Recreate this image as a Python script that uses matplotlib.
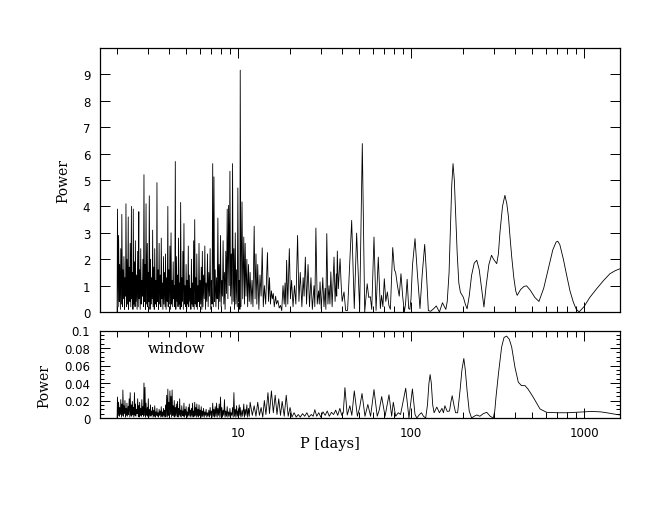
import matplotlib
matplotlib.use("Agg")
import matplotlib.pyplot as plt
from matplotlib.ticker import FixedLocator, LogLocator, MultipleLocator, NullFormatter

# ---------------- data ----------------
# dense short-period part (periods shared by periodogram and window)
p_dense = [
    2.00, 2.01, 2.03, 2.04, 2.06, 2.07, 2.09, 2.10, 2.12, 2.13,
    2.15, 2.16, 2.18, 2.19, 2.21, 2.22, 2.24, 2.25, 2.27, 2.28,
    2.30, 2.32, 2.33, 2.35, 2.37, 2.38, 2.40, 2.42, 2.43, 2.45,
    2.47, 2.48, 2.50, 2.52, 2.54, 2.55, 2.57, 2.59, 2.61, 2.63,
    2.65, 2.67, 2.68, 2.70, 2.72, 2.74, 2.76, 2.78, 2.80, 2.82,
    2.84, 2.86, 2.88, 2.90, 2.92, 2.94, 2.96, 2.99, 3.01, 3.03,
    3.05, 3.07, 3.10, 3.12, 3.14, 3.16, 3.19, 3.21, 3.23, 3.26,
    3.28, 3.30, 3.33, 3.35, 3.38, 3.40, 3.42, 3.45, 3.47, 3.50,
    3.52, 3.55, 3.58, 3.60, 3.63, 3.65, 3.68, 3.71, 3.73, 3.76,
    3.79, 3.81, 3.84, 3.87, 3.90, 3.93, 3.95, 3.98, 4.01, 4.04,
    4.07, 4.10, 4.13, 4.16, 4.19, 4.22, 4.25, 4.28, 4.31, 4.34,
    4.37, 4.40, 4.44, 4.47, 4.50, 4.53, 4.57, 4.60, 4.63, 4.66,
    4.70, 4.73, 4.77, 4.80, 4.83, 4.87, 4.90, 4.94, 4.98, 5.01,
    5.05, 5.08, 5.12, 5.16, 5.19, 5.23, 5.27, 5.31, 5.34, 5.38,
    5.42, 5.46, 5.50, 5.54, 5.58, 5.62, 5.66, 5.70, 5.74, 5.78,
    5.82, 5.87, 5.91, 5.95, 6.00, 6.04, 6.09, 6.13, 6.18, 6.22]
pow_dense = [
    0.0, 3.9, 0.2, 2.9, 0.4, 1.8, 0.1, 2.4, 0.3, 3.7,
    0.2, 1.6, 0.5, 2.1, 0.1, 1.3, 0.6, 4.1, 0.2, 2.0,
    0.3, 3.6, 0.1, 1.7, 0.4, 2.6, 0.2, 4.0, 0.5, 1.5,
    0.1, 3.9, 0.3, 1.9, 0.2, 2.7, 0.4, 1.4, 0.1, 2.3,
    0.2, 3.8, 0.5, 1.6, 0.1, 2.4, 0.3, 1.2, 0.6, 2.0,
    0.2, 5.2, 0.4, 1.8, 0.1, 4.1, 0.3, 2.6, 0.2, 1.5,
    0.4, 4.4, 0.1, 2.0, 0.3, 1.3, 0.5, 3.1, 0.2, 1.7,
    0.1, 2.4, 0.3, 1.2, 0.2, 4.9, 0.4, 1.6, 0.1, 2.6,
    0.3, 1.4, 0.2, 2.8, 0.5, 1.1, 0.1, 2.1, 0.3, 1.5,
    0.2, 2.2, 0.1, 1.3, 0.4, 4.0, 0.2, 1.6, 0.3, 2.5,
    0.1, 3.0, 0.3, 1.2, 0.2, 1.9, 0.5, 1.0, 0.2, 5.7,
    0.1, 2.1, 0.4, 1.4, 0.2, 2.8, 0.3, 1.1, 0.1, 4.15,
    0.2, 1.3, 0.4, 2.3, 0.1, 3.35, 0.3, 1.0, 0.2, 1.8,
    0.1, 1.2, 0.3, 2.5, 0.2, 1.4, 0.4, 0.9, 0.1, 2.0,
    0.3, 1.1, 0.2, 2.7, 0.1, 3.5, 0.3, 1.3, 0.2, 2.2,
    0.1, 1.0, 0.4, 2.6, 0.2, 1.2, 0.3, 1.7, 0.1, 2.3]
win_dense = [
    0.0, 0.024, 0.003, 0.018, 0.002, 0.012, 0.004, 0.021, 0.001, 0.016,
    0.003, 0.032, 0.002, 0.014, 0.005, 0.020, 0.001, 0.011, 0.003, 0.017,
    0.002, 0.013, 0.004, 0.022, 0.001, 0.029, 0.003, 0.015, 0.002, 0.019,
    0.004, 0.012, 0.001, 0.029, 0.003, 0.016, 0.002, 0.010, 0.005, 0.022,
    0.002, 0.014, 0.001, 0.018, 0.003, 0.011, 0.002, 0.021, 0.004, 0.013,
    0.002, 0.040, 0.003, 0.035, 0.001, 0.017, 0.003, 0.012, 0.002, 0.022,
    0.001, 0.010, 0.003, 0.015, 0.002, 0.008, 0.004, 0.012, 0.001, 0.009,
    0.002, 0.014, 0.001, 0.007, 0.003, 0.011, 0.002, 0.006, 0.001, 0.010,
    0.003, 0.008, 0.001, 0.013, 0.002, 0.007, 0.001, 0.011, 0.003, 0.009,
    0.001, 0.015, 0.002, 0.026, 0.001, 0.033, 0.003, 0.018, 0.002, 0.031,
    0.004, 0.025, 0.001, 0.032, 0.003, 0.014, 0.002, 0.020, 0.001, 0.012,
    0.003, 0.016, 0.002, 0.019, 0.001, 0.011, 0.004, 0.022, 0.002, 0.009,
    0.001, 0.014, 0.003, 0.008, 0.002, 0.017, 0.001, 0.010, 0.003, 0.013,
    0.002, 0.007, 0.001, 0.012, 0.003, 0.016, 0.002, 0.009, 0.001, 0.011,
    0.003, 0.017, 0.001, 0.008, 0.002, 0.018, 0.003, 0.012, 0.001, 0.016,
    0.002, 0.010, 0.001, 0.015, 0.003, 0.009, 0.002, 0.013, 0.001, 0.008]

# intermediate part 6-12 d
p_mid = [
    6.27, 6.32, 6.38, 6.43, 6.49, 6.54, 6.60, 6.66, 6.72, 6.78,
    6.84, 6.90, 6.96, 7.02, 7.08, 7.14, 7.20, 7.26, 7.32, 7.38,
    7.45, 7.52, 7.58, 7.65, 7.72, 7.78, 7.85, 7.92, 7.99, 8.06,
    8.13, 8.20, 8.28, 8.35, 8.42, 8.50, 8.58, 8.66, 8.74, 8.82,
    8.90, 8.98, 9.06, 9.14, 9.22, 9.30, 9.38, 9.47, 9.55, 9.64,
    9.72, 9.81, 9.90, 9.98, 10.07, 10.16, 10.25, 10.30, 10.40, 10.55,
    10.65, 10.80, 10.90, 11.00, 11.12, 11.25, 11.37, 11.50, 11.62, 11.75]
pow_mid = [
    0.2, 1.4, 0.5, 2.5, 0.1, 1.1, 0.4, 2.2, 0.2, 1.5,
    0.6, 2.4, 0.1, 1.2, 0.3, 5.62, 0.2, 5.12, 0.4, 1.6,
    0.2, 1.3, 0.5, 3.56, 0.1, 1.8, 0.4, 2.9, 0.2, 1.2,
    0.6, 2.7, 0.3, 1.5, 0.1, 2.3, 0.7, 3.9, 0.5, 4.04,
    1.0, 5.33, 0.6, 2.2, 0.3, 5.62, 0.4, 2.4, 0.1, 3.0,
    0.3, 1.6, 0.2, 4.7, 0.4, 1.2, 0.1, 9.16, 0.2, 4.17,
    0.5, 2.84, 0.3, 2.6, 0.6, 2.0, 0.2, 1.8, 0.4, 1.5]
win_mid = [
    0.002, 0.011, 0.001, 0.007, 0.003, 0.010, 0.001, 0.006, 0.002, 0.009,
    0.001, 0.012, 0.003, 0.008, 0.001, 0.017, 0.002, 0.010, 0.001, 0.013,
    0.002, 0.017, 0.001, 0.011, 0.003, 0.016, 0.001, 0.024, 0.002, 0.012,
    0.001, 0.009, 0.003, 0.021, 0.001, 0.008, 0.002, 0.013, 0.001, 0.007,
    0.002, 0.011, 0.001, 0.006, 0.003, 0.012, 0.001, 0.029, 0.002, 0.010,
    0.001, 0.014, 0.002, 0.008, 0.001, 0.015, 0.003, 0.012, 0.001, 0.009,
    0.002, 0.016, 0.001, 0.010, 0.003, 0.015, 0.001, 0.011, 0.002, 0.018]

# moderate periods 12-97 d (periodogram)
p_mod = [
    11.9, 12.05, 12.2, 12.4, 12.55, 12.7, 12.85, 13.0, 13.2, 13.4,
    13.6, 13.8, 14.0, 14.2, 14.45, 14.8, 15.0, 15.2, 15.4, 15.6,
    15.8, 16.0, 16.2, 16.5, 16.7, 17.0, 17.3, 17.6, 17.9, 18.2,
    18.5, 18.7, 18.9, 19.1, 19.4, 19.8, 20.1, 20.4, 20.8, 21.2,
    21.6, 22.1, 22.5, 22.9, 23.4, 23.8, 24.1, 24.5, 24.9, 25.4,
    25.9, 26.4, 26.9, 27.5, 27.8, 28.2, 28.7, 29.2, 29.5, 29.8,
    30.3, 30.9, 31.4, 31.9, 32.2, 32.6, 33.1, 33.6, 34.0, 34.4,
    35.0, 35.9, 36.4, 37.0, 37.2, 37.5, 38.0, 38.9, 39.5, 40.0,
    41.0, 41.9, 43.0, 45.4, 47.0, 48.5, 50.5, 52.3, 54.0, 55.8,
    57.0, 58.2, 59.3, 61.1, 62.8, 64.7, 66.5, 67.6, 68.8, 70.1,
    71.5, 73.0, 74.5, 76.0, 78.4, 80.2, 81.5, 83.5, 85.5, 87.5,
    89.5, 91.5, 93.0, 95.0, 97.0]
pow_mod = [
    0.3, 1.2, 0.2, 3.25, 0.5, 2.2, 0.3, 1.8, 0.1, 1.4,
    0.6, 2.43, 0.2, 1.0, 0.3, 2.25, 0.4, 1.3, 0.3, 0.8,
    0.5, 0.7, 0.2, 0.6, 0.3, 0.44, 0.15, 0.25, 0.05, 1.0,
    0.3, 1.1, 0.2, 1.96, 0.3, 2.4, 0.5, 1.2, 0.2, 1.0,
    0.3, 2.9, 0.4, 1.5, 0.2, 1.3, 0.6, 2.08, 0.3, 1.8,
    0.2, 1.3, 0.1, 1.0, 0.2, 3.18, 0.3, 0.8, 0.3, 1.14,
    0.1, 1.3, 0.2, 0.9, 0.1, 2.97, 0.3, 1.0, 0.3, 1.52,
    0.2, 2.08, 0.4, 1.44, 0.6, 2.31, 0.88, 2.02, 1.0, 0.4,
    0.76, 0.06, 0.06, 3.47, 0.13, 2.99, 0.06, 6.38, 0.0, 1.07,
    0.55, 0.58, 0.1, 2.84, 0.06, 2.08, 0.13, 0.63, 0.2, 1.26,
    0.4, 0.76, 0.25, 0.1, 2.44, 1.6, 1.5, 1.0, 0.6, 1.45,
    0.6, 0.0, 0.3, 1.24, 0.13]

# long periods (periodogram)
p_long = [
    98.5, 100, 102, 105.5, 108.7, 112.7, 116, 120, 123, 126,
    130, 135, 140, 146, 152, 156, 159, 162, 166, 169,
    172, 175, 178, 181, 185, 189, 193, 197, 201, 206,
    211, 217, 224, 232, 240, 248, 256, 264, 272, 282,
    292, 300, 313, 320, 327, 338, 349, 358, 366, 373,
    382, 393, 403, 411, 430, 450, 466, 490, 520, 549,
    585, 622, 660, 690, 705, 725, 760, 794, 830, 867,
    900, 936, 1000, 1080, 1183, 1300, 1413, 1520, 1620]
pow_long = [
    0.1, 0.5, 1.77, 2.78, 1.51, 0.13, 1.39, 2.56, 1.39, 0.05,
    0.03, 0.12, 0.23, 0.0, 0.35, 0.2, 0.1, 0.4, 1.5, 3.2,
    4.8, 5.62, 5.0, 3.8, 2.2, 1.1, 0.75, 0.65, 0.55, 0.3,
    0.12, 0.6, 1.39, 1.85, 1.96, 1.6, 0.88, 0.19, 1.0, 1.8,
    2.15, 2.0, 1.83, 2.2, 3.04, 4.0, 4.42, 4.1, 3.6, 2.9,
    2.1, 1.3, 0.8, 0.63, 0.85, 0.97, 0.99, 0.82, 0.55, 0.4,
    0.9, 1.64, 2.35, 2.65, 2.68, 2.55, 2.0, 1.39, 0.8, 0.38,
    0.12, 0.0, 0.2, 0.55, 0.88, 1.2, 1.45, 1.57, 1.64]

# window function beyond 12 d
p_win_long = [
    12.1, 12.4, 12.7, 13.0, 13.3, 13.6, 13.9, 14.2, 14.5, 14.9,
    15.2, 15.6, 16.0, 16.4, 16.8, 17.2, 17.6, 18.0, 18.5, 19.0,
    19.5, 20.0, 20.5, 21.1, 21.7, 22.3, 22.9, 23.6, 24.3, 25.0,
    25.7, 26.5, 27.2, 27.8, 28.5, 29.3, 30.1, 31.0, 31.9, 32.8,
    33.7, 34.7, 35.7, 36.7, 37.7, 38.8, 39.8, 40.6, 41.5, 42.8,
    44.3, 45.5, 47.0, 49.0, 50.5, 52.1, 54.2, 56.3, 58.4, 61.1,
    63.8, 65.5, 67.7, 70.8, 74.6, 77.3, 79.0, 81.5, 84.5, 87.0,
    93.2, 97.3, 101.9, 105.5, 108, 112, 115, 118, 121.6, 124.5,
    127, 129, 131, 133.5, 136, 141, 146, 151, 154, 157,
    162, 167, 170, 173, 177, 181, 186, 192, 197, 202,
    206, 211, 217, 224, 232, 240, 250, 262, 274, 287,
    299, 305, 310, 320, 334, 345, 357, 370, 382, 399,
    417, 435, 456, 475, 508, 557, 608, 700, 800, 900,
    1000, 1100, 1250, 1400, 1545, 1620]
win_long = [
    0.003, 0.014, 0.002, 0.018, 0.003, 0.012, 0.001, 0.020, 0.004, 0.029,
    0.005, 0.031, 0.006, 0.026, 0.004, 0.022, 0.003, 0.019, 0.002, 0.026,
    0.002, 0.012, 0.001, 0.006, 0.001, 0.004, 0.001, 0.005, 0.002, 0.006,
    0.001, 0.004, 0.002, 0.0095, 0.002, 0.006, 0.001, 0.007, 0.003, 0.008,
    0.002, 0.0065, 0.004, 0.009, 0.003, 0.011, 0.003, 0.006, 0.0347, 0.0034,
    0.014, 0.003, 0.031, 0.002, 0.012, 0.028, 0.002, 0.0155, 0.002, 0.0325,
    0.002, 0.009, 0.0245, 0.002, 0.0265, 0.002, 0.018, 0.002, 0.006, 0.004,
    0.034, 0.0, 0.0332, 0.004, 0.0, 0.004, 0.006, 0.002, 0.0, 0.015,
    0.04, 0.0496, 0.04, 0.015, 0.006, 0.0125, 0.006, 0.011, 0.006, 0.014,
    0.0075, 0.008, 0.018, 0.0255, 0.015, 0.006, 0.006, 0.031, 0.055, 0.068,
    0.055, 0.031, 0.008, 0.0, 0.002, 0.0035, 0.002, 0.005, 0.0065, 0.002,
    0.0, 0.008, 0.024, 0.050, 0.081, 0.092, 0.0936, 0.09, 0.081, 0.058,
    0.041, 0.037, 0.037, 0.033, 0.024, 0.0103, 0.0065, 0.006, 0.006, 0.0065,
    0.007, 0.0075, 0.007, 0.0055, 0.004, 0.0035]

x_ticks = [10, 100, 1000]
x_ticklabels = ["10", "100", "1000"]
top_yticks = [0, 1, 2, 3, 4, 5, 6, 7, 8, 9]
bot_yticks = [0, 0.02, 0.04, 0.06, 0.08, 0.1]
bot_yticklabels = ["0", "0.02", "0.04", "0.06", "0.08", "0.1"]

# ---------------- figure ----------------
W, H = 660, 510
fig = plt.figure(figsize=(W / 100, H / 100), dpi=100)
fig.patch.set_facecolor("white")

L, R = 100, 620
ax1 = fig.add_axes([L / W, 1 - 313 / H, (R - L) / W, (313 - 49) / H])
ax2 = fig.add_axes([L / W, 1 - 419 / H, (R - L) / W, (419 - 331.5) / H])

top_p = p_dense + p_mid + p_mod + p_long
top_pow = pow_dense + pow_mid + pow_mod + pow_long
win_p = p_dense + p_mid + p_win_long
win_pow = win_dense + win_mid + win_long

ax1.plot(top_p, top_pow, color="black", lw=0.6)
ax2.plot(win_p, win_pow, color="black", lw=0.6)

tick_font = dict(family="DejaVu Sans", size=8.5)
for ax in (ax1, ax2):
    ax.set_xscale("log")
    ax.set_xlim(1.593, 1615)
    ax.xaxis.set_major_locator(FixedLocator(x_ticks))
    ax.xaxis.set_minor_locator(LogLocator(base=10, subs=[2, 3, 4, 5, 6, 7, 8, 9]))
    ax.xaxis.set_minor_formatter(NullFormatter())
    ax.tick_params(which="both", direction="in", top=True, right=True, width=0.7)
    ax.tick_params(which="major", length=7)
    ax.tick_params(which="minor", length=4)
    for s in ax.spines.values():
        s.set_linewidth(0.9)

ax1.set_ylim(0, 10)
ax1.set_yticks(top_yticks)
ax1.set_yticklabels([str(v) for v in top_yticks], fontdict=tick_font)
ax1.xaxis.set_major_formatter(NullFormatter())
ax1.tick_params(axis="y", which="minor", left=False, right=False)
ax1.tick_params(axis="y", which="major", pad=7)

ax2.set_ylim(0, 0.1)
ax2.set_yticks(bot_yticks)
ax2.set_yticklabels(bot_yticklabels, fontdict=tick_font)
ax2.yaxis.set_minor_locator(MultipleLocator(0.005))
ax2.tick_params(axis="y", which="minor", length=3)
ax2.tick_params(axis="y", which="major", pad=7)
ax2.set_xticklabels(x_ticklabels, fontdict=tick_font)
ax2.tick_params(axis="x", which="major", pad=6)

lab_font = dict(family="DejaVu Serif", size=10)
fig.text(63 / W, 1 - 181 / H, "Power", rotation=90, ha="center", va="center", **lab_font)
fig.text(44 / W, 1 - 386 / H, "Power", rotation=90, ha="center", va="center", **lab_font)
fig.text(177 / W, 1 - 349 / H, "window", ha="center", va="center", size=10.5, family="DejaVu Serif")
fig.text(330 / W, 1 - 444 / H, "P [days]", ha="center", va="center", size=10.5, family="DejaVu Serif")

fig.savefig("out.png", dpi=100, facecolor="white")
